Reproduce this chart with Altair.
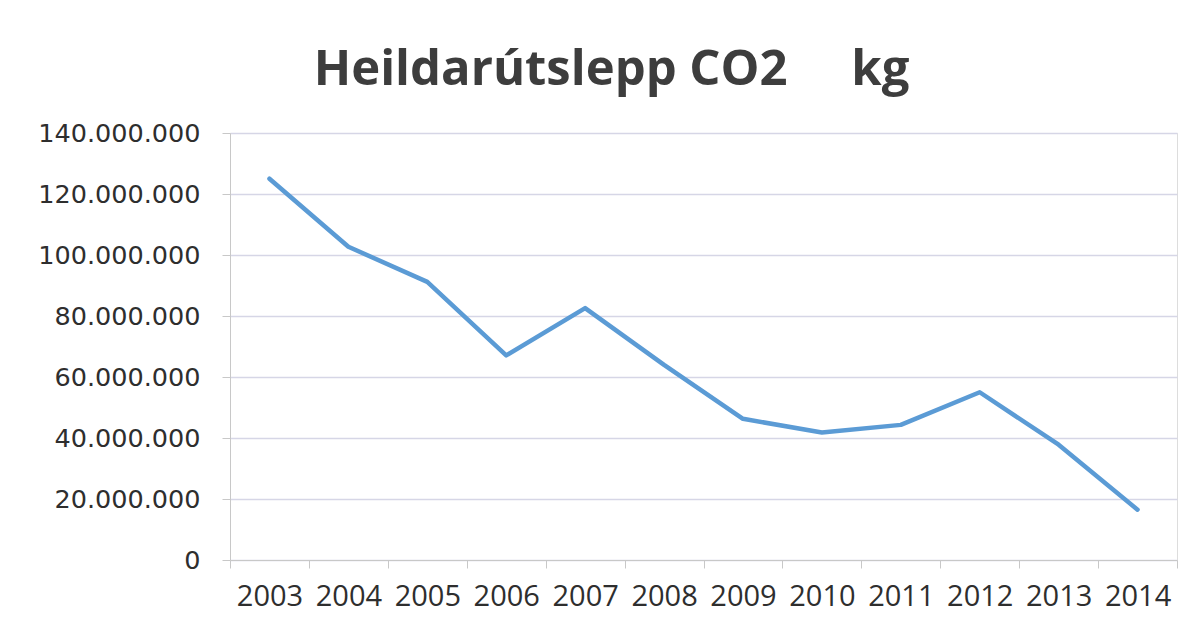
import altair as alt
import pandas as pd

years = ["2003", "2004", "2005", "2006", "2007", "2008",
         "2009", "2010", "2011", "2012", "2013", "2014"]
emissions = [125000000, 102700000, 91200000, 67100000, 82600000, 64000000,
             46300000, 41800000, 44300000, 55000000, 37800000, 16500000]
y_ticks = [0, 20000000, 40000000, 60000000, 80000000, 100000000, 120000000, 140000000]
title_text = "Heildarútslepp CO2\u00a0\u00a0\u00a0\u00a0\u00a0kg"

df = pd.DataFrame({"year": years, "value": emissions})

chart = alt.Chart(df).mark_line(
    color="#5b9bd5", strokeWidth=4.5, strokeCap="round", strokeJoin="round"
).encode(
    x=alt.X("year:O",
            scale=alt.Scale(type="band", paddingInner=0, paddingOuter=0),
            bandPosition=0.5,
            axis=alt.Axis(title=None, labelAngle=0, tickBand="extent",
                          grid=False, domainColor="#c8c8c8", tickColor="#c8c8c8",
                          tickSize=8, labelFont="Open Sans", labelFontSize=29,
                          labelColor="#2e2e2e", labelPadding=14)),
    y=alt.Y("value:Q",
            scale=alt.Scale(domain=[0, 140000000], nice=False),
            axis=alt.Axis(title=None, values=y_ticks,
                          labelExpr="replace(format(datum.value, ','), /,/g, '.')",
                          grid=True, gridColor="#d6d6e6", gridWidth=1.3,
                          domainColor="#c8c8c8", tickColor="#c8c8c8", tickSize=8,
                          labelFont="DejaVu Sans", labelFontSize=25.5,
                          labelColor="#2e2e2e", labelPadding=22)),
).properties(
    width=947,
    height=427,
    title=alt.TitleParams(title_text, font="Open Sans", fontSize=49,
                          fontWeight="bold", color="#3d3d3d",
                          anchor="middle", dx=-92, offset=26),
    autosize=alt.AutoSizeParams(type="none"),
    padding={"left": 222, "top": 125, "right": 18, "bottom": 60},
).configure_view(stroke=None).configure(background="white")

chart.save("out.html", embed_options={"renderer": "svg", "actions": False})
